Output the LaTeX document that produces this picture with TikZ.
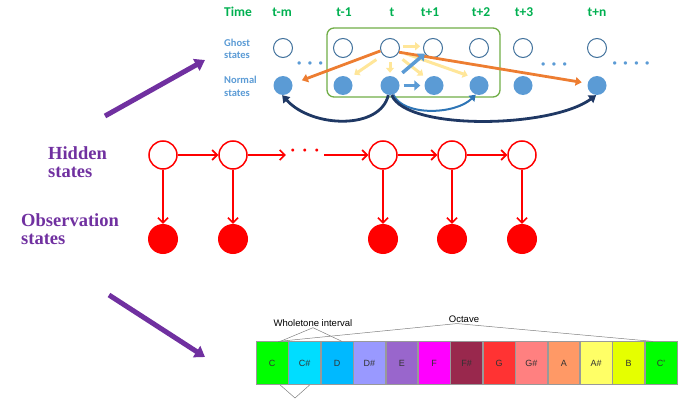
\documentclass[tikz,border=0pt]{standalone}
\usepackage{fontspec}
\setmainfont{Liberation Serif}
\newfontfamily\calfont{Carlito}
\newfontfamily\arialfont{Liberation Sans}
\usetikzlibrary{arrows.meta,positioning,calc}
\definecolor{timegreen}{RGB}{0,176,80}
\definecolor{stateblue}{RGB}{91,155,213}
\definecolor{ringblue}{RGB}{65,113,156}
\definecolor{boxgreen}{RGB}{112,173,71}
\definecolor{jumporange}{RGB}{237,125,49}
\definecolor{softyellow}{RGB}{255,230,153}
\definecolor{arcnavy}{RGB}{31,56,100}
\definecolor{arcblue}{RGB}{46,117,182}
\definecolor{hmmpurple}{RGB}{112,48,160}
\definecolor{hmmred}{RGB}{255,0,0}
\definecolor{keytext}{RGB}{50,50,50}
\definecolor{cC}{RGB}{0,255,0}
\definecolor{cCs}{RGB}{0,221,255}
\definecolor{cD}{RGB}{0,185,255}
\definecolor{cDs}{RGB}{153,153,255}
\definecolor{cE}{RGB}{153,102,204}
\definecolor{cF}{RGB}{255,0,255}
\definecolor{cFs}{RGB}{153,40,77}
\definecolor{cG}{RGB}{255,51,51}
\definecolor{cGs}{RGB}{255,128,128}
\definecolor{cA}{RGB}{255,153,102}
\definecolor{cAs}{RGB}{255,255,102}
\definecolor{cB}{RGB}{229,255,0}

\tikzset{
  timelbl/.style={font={\calfont\bfseries\fontsize{13.5}{15}\selectfont},text=timegreen,inner sep=0pt},
  rowlbl/.style={font={\calfont\bfseries\fontsize{10.5}{12.5}\selectfont},text=stateblue,align=left,anchor=west,inner sep=0pt},
  bluedots/.style={font={\calfont\bfseries\fontsize{18}{18}\selectfont},text=stateblue,inner sep=0pt},
  ghost/.style={circle,draw=ringblue,line width=1pt,fill=white,minimum size=19pt,inner sep=0pt},
  normal/.style={circle,fill=stateblue,minimum size=19pt,inner sep=0pt},
  winbox/.style={draw=boxgreen,line width=1.3pt,rounded corners=7pt,minimum width=173pt,minimum height=69pt},
  jumparrow/.style={jumporange,line width=2.8pt,-{Triangle[length=6pt,width=8.5pt]}},
  softarrow/.style={softyellow,line width=3pt,-{Triangle[length=5pt,width=8pt]}},
  blockarrow/.style={stateblue,line width=3.5pt,-{Triangle[length=6pt,width=10pt]}},
  longarc/.style={arcnavy,line width=2.8pt,-{Triangle[length=7pt,width=9pt]}},
  shortarc/.style={arcblue,line width=2pt,-{Triangle[length=6pt,width=8pt]}},
  hmmlbl/.style={font={\bfseries\fontsize{18.5}{17.5}\selectfont},text=hmmpurple,align=left,anchor=west,inner sep=0pt},
  hidden/.style={circle,draw=hmmred,line width=1.5pt,fill=white,minimum size=28pt,inner sep=0pt},
  observed/.style={circle,fill=hmmred,minimum size=30pt,inner sep=0pt},
  hmmarrow/.style={hmmred,line width=1.6pt,-{Straight Barb[length=5pt,width=10pt]}},
  linkarrow/.style={hmmpurple,line width=5pt,-{Triangle[length=10pt,width=13pt]}},
  key/.style={draw=gray!80,line width=0.6pt,minimum width=31.8pt,minimum height=43pt,inner sep=0pt,font={\arialfont\fontsize{9}{10}\selectfont},text=keytext},
  barlbl/.style={font={\arialfont\fontsize{9.5}{11}\selectfont},text=black,inner sep=1pt},
  bracket/.style={gray,line width=0.5pt}
}

\begin{document}
\begin{tikzpicture}[x=1pt,y=1pt]
  \useasboundingbox (0,0) rectangle (680,400);

  \node[winbox] (win) at (413.5,337.5) {};

  \node[timelbl] (ltime) at (238,388) {Time};
  \node[timelbl] (ltm) at (282,388) {t-m};
  \node[timelbl] (lt1m) at (344,388) {t-1};
  \node[timelbl] (lt) at (392,388) {t};
  \node[timelbl] (lt1) at (430,388) {t+1};
  \node[timelbl] (lt2) at (481,388) {t+2};
  \node[timelbl] (lt3) at (524,388) {t+3};
  \node[timelbl] (ltn) at (597,388) {t+n};

  \node[rowlbl] (lghost) at (224,351) {Ghost\\states};
  \node[rowlbl] (lnormal) at (224,313.5) {Normal\\states};

  \node[ghost] (gtm) at (283,352) {};
  \node[ghost] (gt1m) at (343,352) {};
  \node[ghost] (gt) at (390,352) {};
  \node[ghost] (gt1) at (433,352) {};
  \node[ghost] (gt2) at (479,352) {};
  \node[ghost] (gt3) at (523,352) {};
  \node[ghost] (gtn) at (597,352) {};

  \node[normal] (ntm) at (283,314.5) {};
  \node[normal] (nt1m) at (343,314.5) {};
  \node[normal] (nt) at (390,314.5) {};
  \node[normal] (nt1) at (434,314.5) {};
  \node[normal] (nt2) at (479,314.5) {};
  \node[normal] (nt3) at (523,314.5) {};
  \node[normal] (ntn) at (597,314.5) {};

  \node[bluedots] (dleft) at (310,335) {·\,\,·\,\,·};
  \node[bluedots] (dmid) at (554,334) {·\,\,·\,\,·};
  \node[bluedots] (dright) at (631,335) {·\,\,·\,\,·\,\,·};

  \draw[softarrow,shorten <=3pt,shorten >=3pt] (gt.10) -- (gt1.170);
  \draw[softarrow,shorten <=8pt,shorten >=6pt] (gt.225) -- (nt1m.50);
  \draw[softarrow,shorten <=4pt,shorten >=3pt] (gt.south) -- (nt.north);
  \draw[softarrow,shorten <=7pt,shorten >=5pt] (gt.-45) -- (nt1.135);
  \draw[softarrow,shorten <=6pt,shorten >=6pt] (gt.-20) -- (nt2.125);
  \draw[jumparrow,shorten >=10pt] (gt.197) -- (ntm.10);
  \draw[jumparrow,shorten >=6pt] (gt.-25) -- (ntn.167);
  \draw[blockarrow,shorten <=8pt] (nt.50) -- (gt1.215);
  \draw[blockarrow,shorten <=4pt,shorten >=4pt] (nt.east) -- (nt1.west);

  \draw[longarc] (nt.-100) .. controls +(-8,-35) and +(30,-33) .. (ntm.-95);
  \draw[shortarc] (nt.-70) .. controls +(10,-22) and +(-20,-20) .. (nt2.-110);
  \draw[longarc] (nt.-80) .. controls +(15,-36) and +(-45,-33) .. (ntn.-95);

  \node[hmmlbl] (lhidden) at (48,238) {Hidden\\states};
  \node[hmmlbl] (lobs) at (21,171) {Observation\\states};

  \node[hidden] (h1) at (163,245) {};
  \node[hidden] (h2) at (233,245) {};
  \node[font={\bfseries\fontsize{18}{18}\selectfont},text=hmmred,inner xsep=4pt,inner ysep=0pt] (hdots) at (305,247) {·\,\,·\,\,·};
  \node[hidden] (h3) at (383,245) {};
  \node[hidden] (h4) at (452,245) {};
  \node[hidden] (h5) at (522,245) {};

  \node[observed] (o1) at (163,161) {};
  \node[observed] (o2) at (233,161) {};
  \node[observed] (o3) at (383,161) {};
  \node[observed] (o4) at (452,161) {};
  \node[observed] (o5) at (522,161) {};

  \draw[hmmarrow] (h1) -- (h2);
  \draw[hmmarrow] (h2.east) -- (hdots.west |- h2.east);
  \draw[hmmarrow] (hdots.east |- h3.west) -- (h3.west);
  \draw[hmmarrow] (h3) -- (h4);
  \draw[hmmarrow] (h4) -- (h5);
  \draw[hmmarrow] (h1) -- (o1);
  \draw[hmmarrow] (h2) -- (o2);
  \draw[hmmarrow] (h3) -- (o3);
  \draw[hmmarrow] (h4) -- (o4);
  \draw[hmmarrow] (h5) -- (o5);

  \coordinate (upfrom) at (105,284);
  \coordinate (upto) at (205,340);
  \coordinate (downfrom) at (109,105);
  \coordinate (downto) at (205,43);
  \draw[linkarrow] (upfrom) -- (upto);
  \draw[linkarrow] (downfrom) -- (downto);

  \node[key,fill=cC,anchor=south west] (kC) at (256,15) {C};
  \node[key,fill=cCs,right=0pt of kC] (kCs) {C\#};
  \node[key,fill=cD,right=0pt of kCs] (kD) {D};
  \node[key,fill=cDs,right=0pt of kD] (kDs) {D\#};
  \node[key,fill=cE,right=0pt of kDs] (kE) {E};
  \node[key,fill=cF,right=0pt of kE] (kF) {F};
  \node[key,fill=cFs,right=0pt of kF] (kFs) {F\#};
  \node[key,fill=cG,right=0pt of kFs] (kG) {G};
  \node[key,fill=cGs,right=0pt of kG] (kGs) {G\#};
  \node[key,fill=cA,right=0pt of kGs] (kA) {A};
  \node[key,fill=cAs,right=0pt of kA] (kAs) {A\#};
  \node[key,fill=cB,right=0pt of kAs] (kB) {B};
  \node[key,fill=cC,right=0pt of kB] (kCC) {C'};

  \node[barlbl] (whole) at (313,77) {Wholetone interval};
  \node[barlbl] (oct) at (464,81) {Octave};
  \coordinate (vtip) at (295,2);
  \draw[bracket] ([xshift=8pt]kC.north) -- (whole.south) -- ([xshift=5pt]kD.north);
  \draw[bracket] ([xshift=6pt]kC.north) -- ([xshift=-7pt]oct.south) -- ([xshift=-8pt]kCC.north);
  \draw[bracket] ([xshift=8pt]kC.south) -- (vtip) -- ([xshift=5pt]kCs.south);
\end{tikzpicture}
\end{document}
